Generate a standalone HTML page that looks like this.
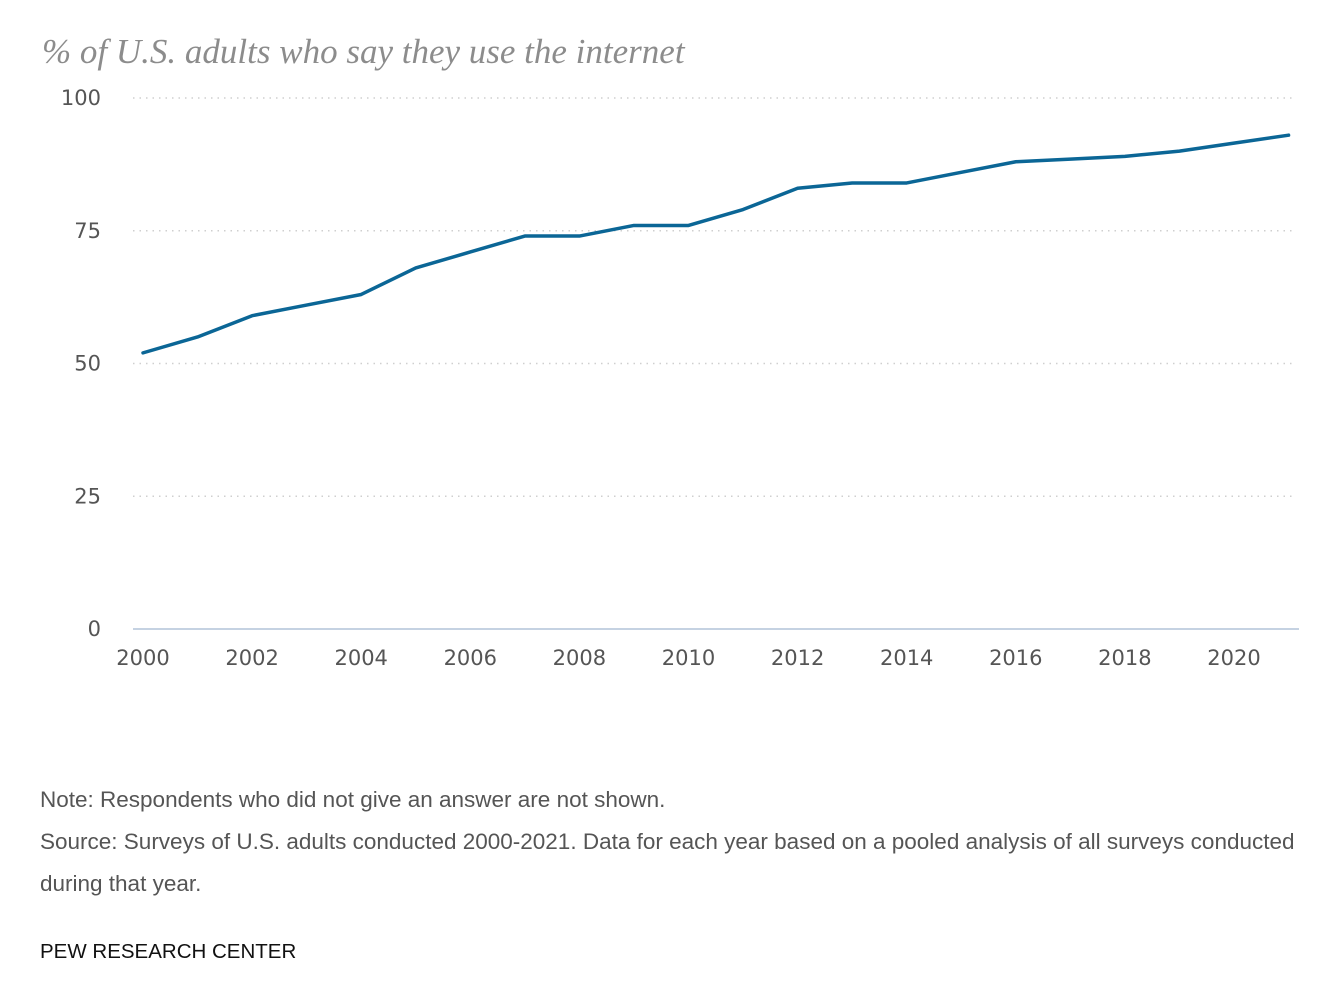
<!DOCTYPE html>
<html><head><meta charset="utf-8"><style>
body{margin:0;background:#fff;width:1342px;height:1006px;overflow:hidden;font-family:"Liberation Sans",sans-serif}
.t{position:absolute;left:42px;top:32px;font-family:"Liberation Serif",serif;font-style:italic;font-size:35px;color:#8c8c8c;white-space:nowrap}
.n{position:absolute;left:40px;font-size:22.5px;color:#555;line-height:42px}
.p{position:absolute;left:40px;top:940px;font-size:20.5px;color:#111}
</style></head><body>
<div class="t">% of U.S. adults who say they use the internet</div>
<svg id="c" width="1342" height="720" style="position:absolute;left:0;top:0"></svg>
<div class="n" style="top:779px">Note: Respondents who did not give an answer are not shown.</div>
<div class="n" style="top:821px;width:1280px">Source: Surveys of U.S. adults conducted 2000-2021. Data for each year based on a pooled analysis of all surveys conducted during that year.</div>
<div class="p">PEW RESEARCH CENTER</div>
<script>
const years=[2000,2001,2002,2003,2004,2005,2006,2007,2008,2009,2010,2011,2012,2013,2014,2015,2016,2017,2018,2019,2020,2021];
const values=[52,55,59,61,63,68,71,74,74,76,76,79,83,84,84,86,88,88.5,89,90,91.5,93];
const yTicks=[0,25,50,75,100];
const xTicks=[2000,2002,2004,2006,2008,2010,2012,2014,2016,2018,2020];
const NS="http://www.w3.org/2000/svg",svg=document.getElementById('c');
const x=v=>143+(v-2000)*54.55, y=v=>629-v*5.31;
function mk(t,a){const e=document.createElementNS(NS,t);for(const k in a)e.setAttribute(k,a[k]);svg.appendChild(e);return e;}
yTicks.forEach(v=>{
 if(v>0){const g=mk('line',{x1:133,x2:1295,y1:y(v),y2:y(v),stroke:'#cfcfcf','stroke-width':1.5,'stroke-dasharray':'1.5,5'});
 
 }
 const t=mk('text',{x:101,y:y(v)+7,'text-anchor':'end','font-size':21,fill:'#555','font-family':'DejaVu Sans, sans-serif'});t.textContent=v;
 
 
});
const b=mk('line',{x1:133,x2:1299,y1:629,y2:629,stroke:'#c5d2e2','stroke-width':2});


xTicks.forEach(v=>{const t=mk('text',{x:x(v),y:665,'text-anchor':'middle','font-size':21,fill:'#555','font-family':'DejaVu Sans, sans-serif'});t.textContent=v;
 
 });
const p=mk('polyline',{points:years.map((yr,i)=>x(yr)+','+y(values[i])).join(' '),fill:'none',stroke:'#0b6696','stroke-width':3.5,'stroke-linejoin':'round','stroke-linecap':'round'});


</script>
</body></html>
